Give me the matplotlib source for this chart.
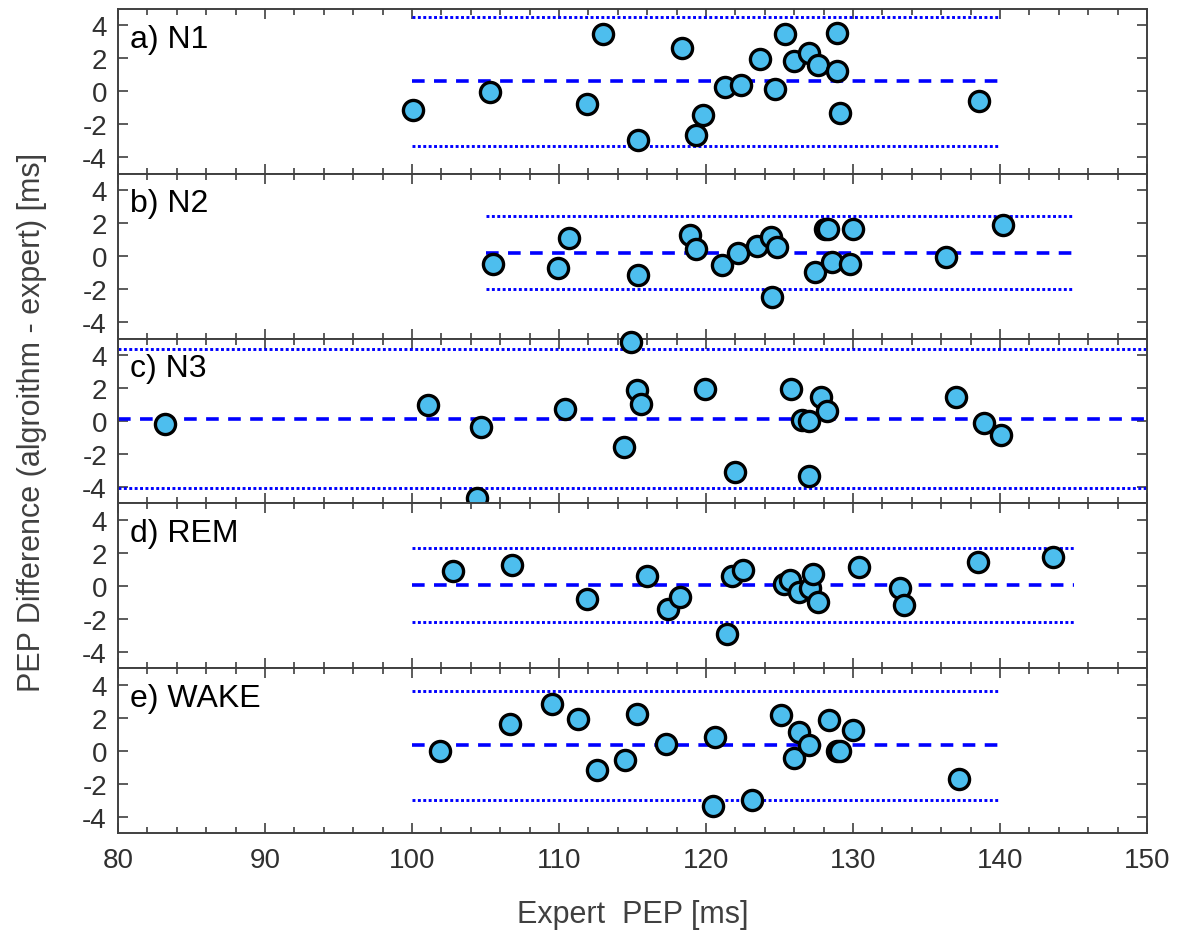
"""
Bland-Altman por fase de sueño: diferencia PEP (algoritmo - experto).
"""
import numpy as np
import matplotlib
matplotlib.use("Agg")
import matplotlib.pyplot as plt
from matplotlib.ticker import MultipleLocator

plt.rcParams["font.family"] = ["Liberation Sans", "DejaVu Sans"]
plt.rcParams["axes.unicode_minus"] = False

# ---- datos ----
etiquetas = ["a) N1", "b) N2", "c) N3", "d) REM", "e) WAKE"]

n1_x = [100.1, 105.3, 111.9, 113.0, 115.4, 118.4, 119.3, 119.8, 121.3, 122.4,
        123.7, 124.7, 125.4, 126.0, 127.0, 127.6, 128.9, 128.9, 129.1, 138.6]
n1_y = [-1.10, -0.02, -0.77, 3.46, -2.97, 2.64, -2.66, -1.44, 0.24, 0.41,
        1.97, 0.14, 3.50, 1.83, 2.36, 1.61, 3.54, 1.22, -1.32, -0.61]

n2_x = [105.5, 109.9, 110.7, 115.4, 118.9, 119.3, 121.1, 122.2, 123.5, 124.4,
        124.8, 124.5, 127.4, 128.1, 128.3, 128.6, 129.8, 130.0, 136.3, 140.2]
n2_y = [-0.47, -0.69, 1.10, -1.14, 1.26, 0.45, -0.53, 0.20, 0.61, 1.16,
        0.53, -2.46, -0.93, 1.67, 1.63, -0.37, -0.49, 1.65, -0.06, 1.87]

n3_x = [114.9, 83.2, 101.1, 104.7, 110.4, 114.4, 115.3, 115.6, 119.9, 122.0,
        125.8, 126.5, 127.0, 127.0, 127.8, 128.2, 137.0, 138.9, 140.1, 104.4]
n3_y = [4.82, -0.20, 0.96, -0.39, 0.75, -1.59, 1.91, 1.06, 1.95, -3.07,
        1.93, 0.08, 0.00, -3.31, 1.46, 0.59, 1.46, -0.10, -0.83, -4.67]

rem_x = [102.8, 106.8, 111.9, 116.0, 117.4, 118.2, 121.4, 121.8, 122.5, 125.3,
         125.7, 126.3, 127.1, 127.3, 127.6, 130.4, 133.2, 133.5, 138.5, 143.6]
rem_y = [0.89, 1.28, -0.81, 0.59, -1.38, -0.67, -2.95, 0.59, 0.93, 0.10,
         0.35, -0.37, -0.12, 0.73, -0.98, 1.12, -0.12, -1.14, 1.44, 1.73]

wake_x = [101.9, 106.7, 109.5, 111.3, 112.6, 114.5, 115.3, 117.3, 120.5, 120.6,
          123.1, 125.1, 126.0, 126.3, 127.0, 128.4, 128.9, 129.1, 130.0, 137.2]
wake_y = [0.00, 1.63, 2.85, 1.91, -1.18, -0.55, 2.22, 0.41, -3.35, 0.85,
          -2.99, 2.17, -0.47, 1.14, 0.35, 1.87, 0.00, 0.00, 1.24, -1.71]

# media (sesgo) y límites de acuerdo, con el tramo en x de cada línea
sesgo = [0.61, 0.22, 0.10, 0.04, 0.33]
lim_sup = [4.51, 2.44, 4.35, 2.28, 3.62]
lim_inf = [-3.31, -2.01, -4.07, -2.20, -2.97]
tramo_x = [(100, 140), (105, 145), (80, 150), (100, 145), (100, 140)]

series = [(n1_x, n1_y), (n2_x, n2_y), (n3_x, n3_y), (rem_x, rem_y), (wake_x, wake_y)]

AZUL_PUNTO = "#4DBEEE"
GRIS_EJE = "#404040"
GRIS_TEXTO = "#303030"

fig = plt.figure(figsize=(11.77, 9.37), dpi=100)

izq, der = 118 / 1177, 1147 / 1177
arriba, abajo = 1 - 10 / 937, 1 - 834 / 937
alto = (arriba - abajo) / 5

axes = []
for i in range(5):
    ax = fig.add_axes([izq, arriba - (i + 1) * alto, der - izq, alto])
    axes.append(ax)

for i, ax in enumerate(axes):
    x, y = series[i]
    x0, x1 = tramo_x[i]
    ax.plot([x0, x1], [lim_sup[i]] * 2, color="blue", lw=2.1, ls=(0, (1.0, 0.85)), zorder=2)
    ax.plot([x0, x1], [lim_inf[i]] * 2, color="blue", lw=2.1, ls=(0, (1.0, 0.85)), zorder=2)
    ax.plot([x0, x1], [sesgo[i]] * 2, color="blue", lw=2.6, ls=(0, (3.5, 2.6)), zorder=2)
    ax.plot(x, y, ls="none", marker="o", ms=14.5, mfc=AZUL_PUNTO, mec="black",
            mew=2.4, zorder=5 + i, clip_on=False)

    ax.set_xlim(80, 150)
    ax.set_ylim(-5, 5)
    ax.set_yticks([-4, -2, 0, 2, 4])
    ax.xaxis.set_major_locator(MultipleLocator(10))
    ax.xaxis.set_minor_locator(MultipleLocator(2))
    ax.tick_params(which="both", direction="in", top=True, right=True,
                   color=GRIS_EJE, width=1.2, labelsize=20, labelcolor=GRIS_TEXTO)
    ax.tick_params(which="major", length=7)
    ax.tick_params(which="minor", length=4)
    ax.tick_params(axis="y", pad=8)
    ax.tick_params(axis="x", pad=10)
    for s in ax.spines.values():
        s.set_color(GRIS_EJE)
        s.set_linewidth(1.4)
    if i < 4:
        ax.tick_params(labelbottom=False)
    ax.text(0.012, 0.82, etiquetas[i], transform=ax.transAxes, fontsize=23,
            color="black", va="center", ha="left", zorder=10)

fig.text(32 / 1177, (arriba + abajo) / 2, "PEP Difference (algroithm - expert) [ms]",
         rotation=90, ha="center", va="center", fontsize=22, color=GRIS_EJE)
fig.text((izq + der) / 2, 1 - 915 / 937, "Expert  PEP [ms]",
         ha="center", va="center", fontsize=22, color=GRIS_EJE)

fig.savefig("out.png", dpi=100)
